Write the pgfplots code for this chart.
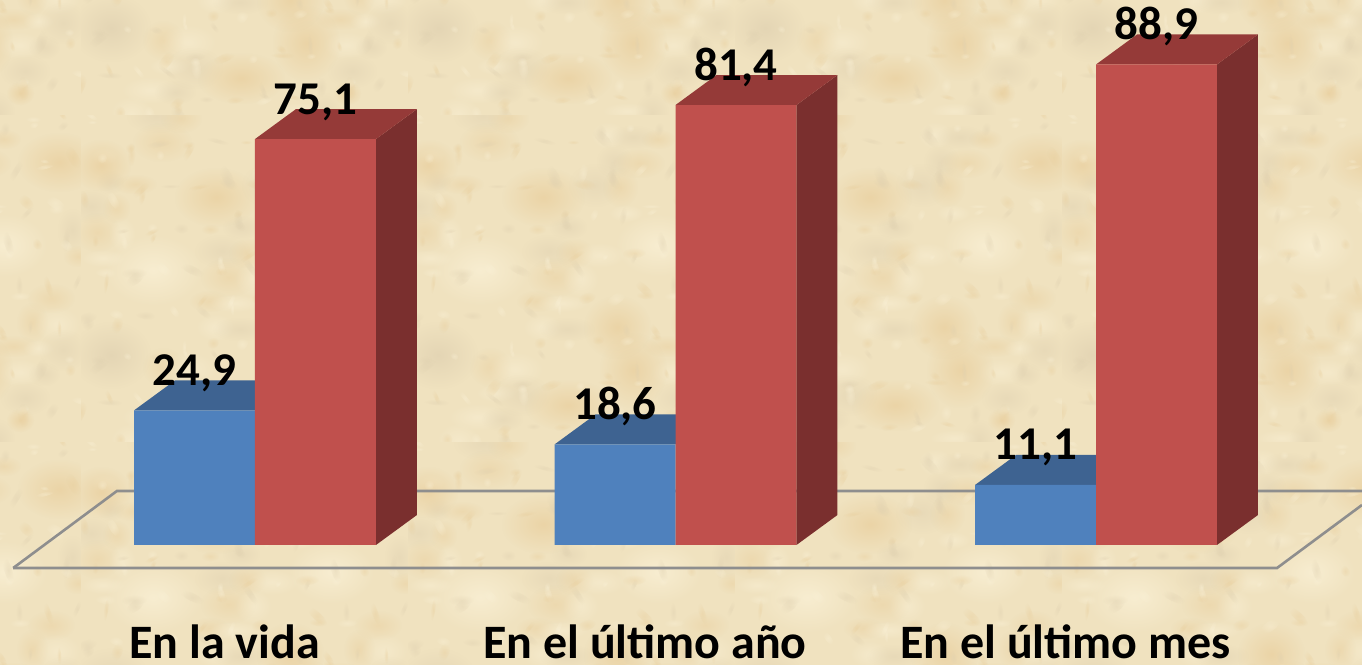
\documentclass[border=0pt]{standalone}
\usepackage{pgfplots}
\pgfplotsset{compat=1.18}
\usepackage{fontspec}
\setmainfont{Carlito}
\usetikzlibrary{fadings}
\definecolor{bgbase}{HTML}{F0E2BF}
\definecolor{warm}{HTML}{E9CE9C}
\definecolor{lite}{HTML}{FBF2D8}
\definecolor{dull}{HTML}{DFD0B0}
\definecolor{bluef}{HTML}{4F81BD}
\definecolor{bluet}{HTML}{3E6391}
\definecolor{redf}{HTML}{C0504D}
\definecolor{redt}{HTML}{953A38}
\definecolor{reds}{HTML}{7A2F2E}
\definecolor{floorc}{HTML}{8E8E8E}
\tikzfading[name=soft,inner color=transparent!0,outer color=transparent!100]
\pgfplotstableread{
x  no   si
0  24.9 75.1
1  18.6 81.4
2  11.1 88.9
}\datatab
\newsavebox\tilebox
\sbox\tilebox{\begin{tikzpicture}[x=1pt,y=1pt]
 \path[use as bounding box] (0,0) rectangle (327,-327);
 \clip (0,0) rectangle (327,-327);
 \fill[bgbase] (0,0) rectangle (327,-327);
 \foreach \i in {0,...,6}{\foreach \j in {0,...,6}{
   \pgfmathsetmacro\px{mod(\i*137+\j*59+23,327)}
   \pgfmathsetmacro\py{mod(\i*71+\j*211+41,327)}
   \pgfmathsetmacro\rx{14+mod(\i*5+\j*7,17)}
   \pgfmathsetmacro\ry{9+mod(\i*3+\j*11,14)}
   \pgfmathtruncatemacro\k{mod(\i+2*\j,3)}
   \ifcase\k\def\cc{lite}\or\def\cc{dull}\else\def\cc{warm}\fi
   \fill[\cc,opacity=.45,path fading=soft] (\px,-\py) ellipse ({\rx} and {\ry});
 }}
 \foreach \px/\py/\rx/\ry/\cc in {
   305/47/42/30/warm, 225/255/34/38/warm, 266/305/14/12/warm,
   135/82/42/30/warm, 209/212/34/32/warm, 72/155/50/36/lite,
   30/240/40/34/dull, 160/290/44/26/warm, 250/130/44/32/lite,
   20/50/30/26/warm}{
   \fill[\cc,opacity=.7,path fading=soft] (\px,-\py) ellipse ({\rx} and {\ry});
 }
 % fine grain
 \foreach \i in {0,...,11}{\foreach \j in {0,...,11}{
   \pgfmathsetmacro\px{mod(\i*97+\j*43+11,327)}
   \pgfmathsetmacro\py{mod(\i*29+\j*157+7,327)}
   \pgfmathsetmacro\rx{5+mod(\i*7+\j*5,9)}
   \pgfmathsetmacro\ry{2+mod(\i*5+\j*3,4)}
   \pgfmathsetmacro\rt{mod(\i*61+\j*37,180)}
   \pgfmathtruncatemacro\k{mod(2*\i+\j,3)}
   \ifcase\k\def\cc{lite}\or\def\cc{dull}\else\def\cc{warm}\fi
   \fill[\cc,opacity=.4,path fading=soft,rotate around={\rt:(\px,-\py)}] (\px,-\py) ellipse ({\rx} and {\ry});
 }}
\end{tikzpicture}}
\begin{document}
\begin{tikzpicture}[x=1pt,y=1pt]
% parchment background: one tile, repeated every 327 px
\begin{scope}
\clip (0,0) rectangle (1362,664);
\foreach \ox in {-246,81,408,735,1062}{
 \foreach \oy in {-212,115,442}{
  \node[inner sep=0pt,anchor=north west] at (\ox,664-\oy) {\usebox\tilebox};
 }
}
\end{scope}
\begin{axis}[
  at={(0,0)},anchor=south west,
  scale only axis,width=1362pt,height=664pt,
  xmin=-0.6064,xmax=2.6326,ymin=-22.02,ymax=100.83,
  axis line style={draw=none},
  major tick style={draw=none},
  ytick=\empty,
  xtick={0,1,2},
  xticklabels={En la vida,En el último año,En el último mes},
  xticklabel style={font=\fontsize{48}{50}\selectfont\bfseries,anchor=base,inner sep=0pt,xshift=-30.5pt,yshift=6pt},
  clip=false,
  table/x=x,
]
% floor
\addplot[floorc,line width=2.6pt,line join=miter,forget plot] coordinates {(-0.575,-4.26)(-0.3283,9.99)(2.6326,9.99)};
\addplot[floorc,line width=2.6pt,line join=miter,forget plot] coordinates {(-0.575,-4.26)(2.4305,-4.26)(2.6326,7.4)};
% tops of the bars and red sides
\foreach \cx/\bv/\rv in {0/24.9/75.1,1/18.6/81.4,2/11.1/88.9}{
 \edef\temp{\noexpand\addplot[fill=bluet,draw=none,forget plot] coordinates
   {(\cx-0.2877,\bv)(\cx-0.2877+0.0975,\bv+5.55)(\cx+0.0975,\bv+5.55)(\cx,\bv)} -- cycle;
 \noexpand\addplot[fill=reds,draw=none,forget plot] coordinates
   {(\cx+0.2877,0)(\cx+0.2877+0.0975,5.55)(\cx+0.2877+0.0975,\rv+5.55)(\cx+0.2877,\rv)} -- cycle;
 \noexpand\addplot[fill=redt,draw=none,forget plot] coordinates
   {(\cx,\rv)(\cx+0.0975,\rv+5.55)(\cx+0.2877+0.0975,\rv+5.55)(\cx+0.2877,\rv)} -- cycle;}
 \temp
}
% front faces and value labels
\pgfplotsset{every node near coord/.style={font=\fontsize{47}{50}\selectfont\bfseries,text=black,anchor=base,inner sep=0pt,yshift=25pt}}
\addplot[ybar,bar width=0.2877,bar shift=-0.14385,fill=bluef,draw=none,
  nodes near coords,every node near coord/.append style={xshift=-60.5pt},
  /pgf/number format/.cd,fixed,fixed zerofill,precision=1,use comma,assume math mode=true]
  table[y=no] {\datatab};
\addplot[ybar,bar width=0.2877,bar shift=0.14385,fill=redf,draw=none,
  nodes near coords,every node near coord/.append style={xshift=60.5pt},
  /pgf/number format/.cd,fixed,fixed zerofill,precision=1,use comma,assume math mode=true]
  table[y=si] {\datatab};
\end{axis}
\pgfresetboundingbox
\path[use as bounding box] (0,0) rectangle (1362,664);
\end{tikzpicture}
\end{document}
